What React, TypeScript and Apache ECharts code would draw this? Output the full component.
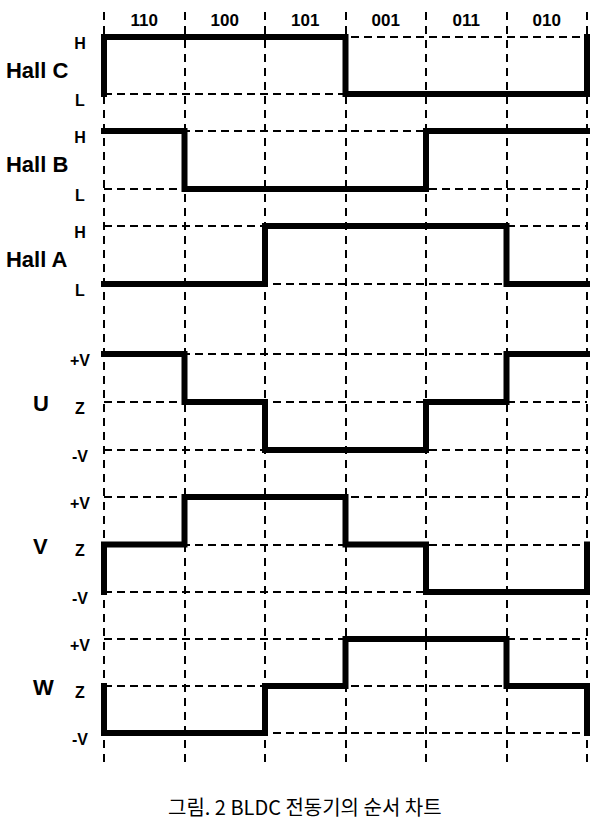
import React, { useEffect, useRef } from "react";
import * as echarts from "echarts";

// Hall sensor states per commutation step (C B A)
const stepLabels = ["110", "100", "101", "001", "011", "010"];
const hallC = [1, 1, 1, 0, 0, 0];
const hallB = [1, 0, 0, 0, 1, 1];
const hallA = [0, 0, 1, 1, 1, 0];
// Phase voltages: 1 = +V, 0 = Z, -1 = -V
const phaseU = [1, 0, -1, -1, 0, 1];
const phaseV = [0, 1, 1, 0, -1, -1];
const phaseW = [-1, -1, 0, 1, 1, 0];

const rowNames = ["Hall C", "Hall B", "Hall A", "U", "V", "W"];
const rowValues = [hallC, hallB, hallA, phaseU, phaseV, phaseW];
const hallTicks = ["L", "H"];
const phaseTicks = ["-V", "Z", "+V"];
const caption = "그림. 2 BLDC 전동기의 순서 차트";

// layout
const rowLayout = [
  { top: 37, height: 57 },
  { top: 131, height: 58 },
  { top: 226, height: 58 },
  { top: 354, height: 96 },
  { top: 497, height: 95 },
  { top: 639, height: 94 },
];
const LEFT = 104;
const RIGHT = 16;
const FONT = "Liberation Sans";

function buildSteps(vals: number[]) {
  const n = vals.length;
  const pts: number[][] = [];
  pts.push([0, vals[n - 1]]);
  for (let i = 0; i < n; i++) {
    pts.push([i, vals[i]]);
    pts.push([i + 1, vals[i]]);
  }
  pts.push([n, vals[0]]);
  return pts;
}

export default function App() {
  const ref = useRef<HTMLDivElement>(null);
  useEffect(() => {
    if (!ref.current) return;
    const chart = echarts.init(ref.current, null, { renderer: "svg" });
    const grids: any[] = [
      { left: LEFT, right: RIGHT, top: 12, height: 754 },
      ...rowLayout.map((r) => ({ left: LEFT, right: RIGHT, top: r.top, height: r.height })),
    ];
    const xAxes: any[] = [
      {
        type: "value",
        gridIndex: 0,
        min: 0,
        max: 6,
        interval: 1,
        axisLine: { show: false },
        axisTick: { show: false },
        axisLabel: { show: false },
        splitLine: { show: true, lineStyle: { type: [8, 6], color: "#000", width: 2 } },
      },
      {
        type: "category",
        gridIndex: 1,
        position: "top",
        data: stepLabels,
        boundaryGap: true,
        axisLine: { show: false },
        axisTick: { show: false },
        splitLine: { show: false },
        axisLabel: { color: "#000", fontSize: 17, fontWeight: "bold", fontFamily: FONT, margin: 8 },
      },
      ...rowLayout.map((_, i) => ({
        type: "value",
        gridIndex: i + 1,
        min: 0,
        max: 6,
        interval: 1,
        axisLine: { show: false },
        axisTick: { show: false },
        axisLabel: { show: false },
        splitLine: { show: false },
      })),
    ];
    const yAxes: any[] = [
      { type: "value", gridIndex: 0, show: false, min: 0, max: 1 },
      ...rowLayout.map((_, i) => {
        const isHall = i < 3;
        return {
          type: "value",
          gridIndex: i + 1,
          min: isHall ? 0 : -1,
          max: 1,
          interval: 1,
          name: rowNames[i],
          nameLocation: "middle",
          nameRotate: 0,
          nameGap: isHall ? 87 : 71,
          nameTextStyle: {
            color: "#000",
            fontSize: 22,
            fontWeight: "bold",
            fontFamily: FONT,
            align: "left",
            verticalAlign: "top",
            lineHeight: isHall ? 9 : 3,
          },
          axisLine: { show: false },
          axisTick: { show: false },
          splitLine: { show: true, lineStyle: { type: [8, 5], color: "#000", width: 2 } },
          axisLabel: {
            color: "#000",
            fontSize: 16,
            fontWeight: "bold",
            fontFamily: FONT,
            align: "center",
            verticalAlign: "top",
            lineHeight: 12,
            margin: 24,
            formatter: (v: number) =>
              isHall ? hallTicks[v] : phaseTicks[v + 1],
          },
        };
      }),
    ];
    const series: any[] = rowValues.map((vals, i) => ({
      type: "line",
      name: rowNames[i],
      xAxisIndex: i + 2,
      yAxisIndex: i + 1,
      data: buildSteps(vals),
      symbol: "none",
      clip: false,
      z: 5,
      lineStyle: { color: "#000", width: 6, cap: "square", join: "miter" },
    }));
    chart.setOption({
      animation: false,
      backgroundColor: "#fff",
      title: {
        text: caption,
        left: 168,
        top: 796,
        padding: 0,
        textStyle: {
          color: "#000",
          fontSize: 20,
          fontWeight: "normal",
          fontFamily: "Noto Sans CJK KR",
        },
      },
      grid: grids,
      xAxis: xAxes,
      yAxis: yAxes,
      series,
    });
    return () => chart.dispose();
  }, []);
  return (
    <div
      ref={ref}
      style={{ position: "fixed", left: 0, top: 0, width: 603, height: 825, background: "#fff" }}
    />
  );
}
